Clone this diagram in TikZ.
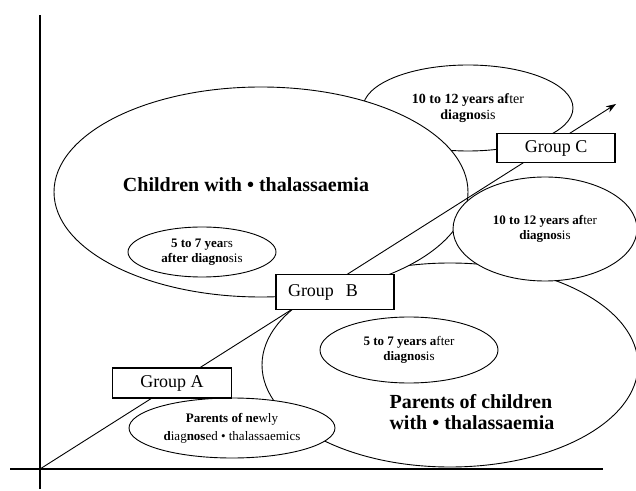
\documentclass[tikz,border=0pt]{standalone}
\usepackage{fontspec}
\setmainfont{Liberation Serif}
\usetikzlibrary{arrows.meta, shapes.geometric}

\begin{document}
\begin{tikzpicture}[
  x=1pt, y=1pt,
  oval/.style={draw, ellipse, fill=white, line width=0.9pt, inner sep=0pt,
               align=center, font=\fontsize{13}{15}\selectfont},
  grp/.style={draw, fill=white, line width=1.4pt, inner sep=0pt,
              font=\fontsize{18}{20}\selectfont},
  big/.style={font=\fontsize{20}{21}\selectfont\bfseries, align=left},
  axis/.style={line width=1.1pt},
  arr/.style={-{Stealth[length=10pt, width=7pt]}, line width=0.9pt}
]
\useasboundingbox (0,0) rectangle (636,490);

%
%  Layout (pt, origin bottom left):
%
%  y 380 :              [10-12 yrs]      tip
%  y 300 :   [ Children .......... ]  [Group C]
%  y 200 :          [Group B]    [10-12 yrs]
%  y 100 :   [Group A]   [ Parents of children ]
%  y  20 : origin  [newly diagnosed]
%

% --- axes ---
\coordinate (origin) at (40,21);
\coordinate (ytop)   at (40,475);
\coordinate (ybot)   at (40,1);
\coordinate (xleft)  at (10,21);
\coordinate (xright) at (603,21);
\draw[axis] (ybot) -- (ytop);
\draw[axis] (xleft) -- (xright);

% --- ellipses, back to front ---
\node[oval, minimum width=210pt, minimum height=86pt,
      font=\fontsize{14}{16}\selectfont] (late_top) at (468,382)
      {\textbf{10 to 12 years af}ter\\\textbf{diagnos}is};
\node[oval, minimum width=376pt, minimum height=204pt] (parents) at (450,125) {};
\node[oval, minimum width=414pt, minimum height=210pt] (children) at (261,298) {};
\node[oval, minimum width=184pt, minimum height=104pt] (late_right) at (545,261)
      {\textbf{10 to 12 years af}ter\\\textbf{diagnos}is};

% --- inner ellipses ---
\node[oval, minimum width=148pt, minimum height=50pt] (early_top) at (202,238)
      {\textbf{5 to 7 yea}rs\\\textbf{after diagno}sis};
\node[oval, minimum width=178pt, minimum height=66pt] (early_low) at (409,140)
      {\textbf{5 to 7 years a}fter\\\textbf{diagnos}is};
\node[oval, minimum width=206pt, minimum height=60pt] (newly) at (232,62)
      {\textbf{Parents of ne}wly\\[3pt]\textbf{d}iag\textbf{nos}ed • thalassaemics};

% --- group labels ---
\node[big] (children_lbl) at (246,305) {Children with • thalassaemia};
\node[big, anchor=west] (parents_lbl) at (386,78) {Parents of children\\with • thalassaemia};

% --- time arrow ---
\coordinate (tip) at (616,386);
\draw[arr] (origin) -- (tip);

% --- groups ---
\node[grp, minimum width=119pt, minimum height=30pt] (grpA) at (172,107) {Group A};
\node[grp, minimum width=118pt, minimum height=35pt,
      text width=94pt, align=left] (grpB) at (335,198) {Group~ B};
\node[grp, minimum width=118pt, minimum height=29pt] (grpC) at (556,342) {Group C};

\end{tikzpicture}
\end{document}
